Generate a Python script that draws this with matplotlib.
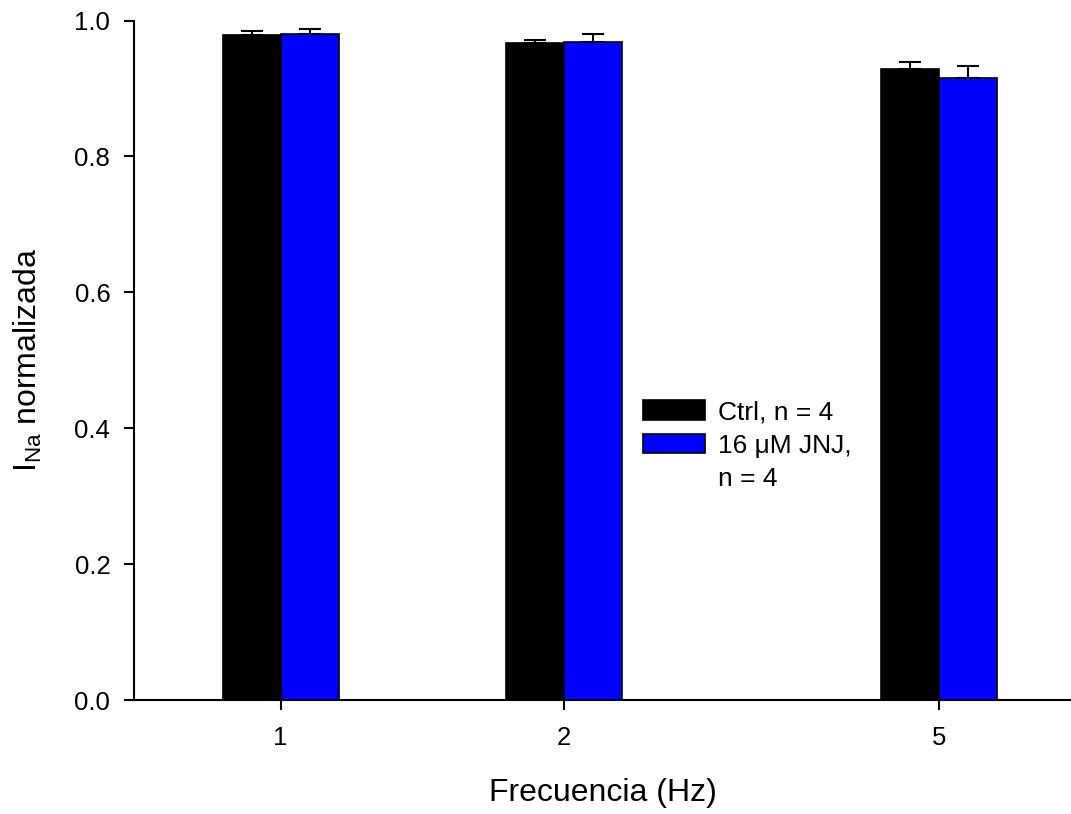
import numpy as np
import matplotlib
matplotlib.use("Agg")
import matplotlib.pyplot as plt
from matplotlib.patches import Rectangle

plt.rcParams['font.family'] = ['Liberation Sans', 'DejaVu Sans']
plt.rcParams['mathtext.fontset'] = 'custom'
plt.rcParams['mathtext.rm'] = 'Liberation Sans'

# Stimulation frequencies (Hz) and normalized sodium current
frequencies = [1, 2, 5]
tick_labels = ['1', '2', '5']
ctrl_mean = [0.978, 0.967, 0.928]
ctrl_err = [0.007, 0.005, 0.011]
jnj_mean = [0.980, 0.968, 0.915]
jnj_err = [0.007, 0.012, 0.018]
series_labels = ['Ctrl, n = 4', '16 \u03bcM JNJ,', 'n = 4']

fig = plt.figure(figsize=(10.71, 8.14), dpi=100)
ax = fig.add_axes([0.1251, 0.14, 0.8749, 0.8348])
ax.set_xscale('log')

# bars sit side by side around each frequency on the log axis
half = 0.0616  # bar width in decades
f = np.array(frequencies, dtype=float)
left_ctrl = f * 10 ** (-half)
w_ctrl = f - left_ctrl
w_jnj = f * 10 ** half - f

h_ctrl = ax.bar(left_ctrl, ctrl_mean, width=w_ctrl, align='edge', color='black',
                edgecolor='black', linewidth=1.2, zorder=3)
h_jnj = ax.bar(f, jnj_mean, width=w_jnj, align='edge', color='#0000ff',
               edgecolor='black', linewidth=1.2, zorder=3)

cx_ctrl = np.sqrt(left_ctrl * f)
cx_jnj = np.sqrt(f * (f + w_jnj))
zeros = np.zeros(len(f))
ax.errorbar(cx_ctrl, ctrl_mean, yerr=[zeros, ctrl_err], fmt='none',
            ecolor='black', elinewidth=1.5, capsize=8, capthick=1.5, zorder=2)
ax.errorbar(cx_jnj, jnj_mean, yerr=[zeros, jnj_err], fmt='none',
            ecolor='black', elinewidth=1.5, capsize=8, capthick=1.5, zorder=2)

ax.set_xlim(0.6987, 6.90)
ax.set_ylim(0, 1.0)
ax.set_xticks(frequencies)
ax.set_xticklabels(tick_labels)
ax.xaxis.set_minor_locator(matplotlib.ticker.NullLocator())
ax.set_yticks([0.0, 0.2, 0.4, 0.6, 0.8, 1.0])
ax.set_yticklabels(['0.0', '0.2', '0.4', '0.6', '0.8', '1.0'])

for side in ['top', 'right']:
    ax.spines[side].set_visible(False)
for side in ['left', 'bottom']:
    ax.spines[side].set_linewidth(1.5)
ax.tick_params(axis='both', direction='out', length=7, width=1.5,
               labelsize=18.5, colors='black')
ax.tick_params(axis='y', pad=10)
ax.tick_params(axis='x', pad=12)

ax.set_xlabel('Frecuencia (Hz)', fontsize=23, labelpad=20)
ax.set_ylabel(r'$\mathregular{I_{Na}}$ normalizada', fontsize=23, labelpad=22)

# legend: second label wraps onto a line with no swatch
blank = Rectangle((0, 0), 1, 1, facecolor='none', edgecolor='none')
ax.legend([h_ctrl, h_jnj, blank], series_labels,
          loc='upper left', bbox_to_anchor=(643 / 1071, 1 - 400 / 814),
          bbox_transform=fig.transFigure, frameon=False, fontsize=19,
          borderpad=0, borderaxespad=0, handlelength=2.35, handleheight=0.76,
          handletextpad=0.5, labelspacing=0.36)

fig.savefig('out.png', dpi=100, facecolor='white')
